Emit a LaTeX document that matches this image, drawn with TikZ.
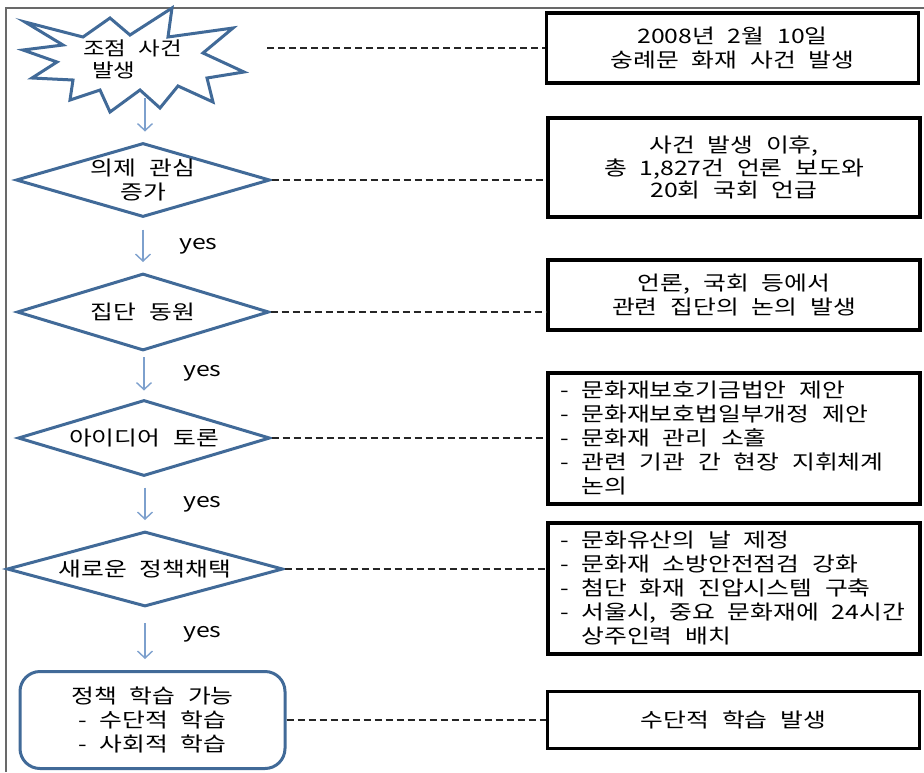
\documentclass[tikz,border=0pt]{standalone}
\usepackage{fontspec}
\setmainfont{Noto Sans CJK KR}[FakeStretch=1.24,WordSpace=2.3]
\usetikzlibrary{shapes.geometric,arrows.meta}
\definecolor{flowblue}{RGB}{65,106,152}
\definecolor{arrowblue}{RGB}{125,160,205}
\definecolor{framegray}{RGB}{105,105,105}
\begin{document}
\begin{tikzpicture}[x=1pt,y=-1pt,
  font=\fontsize{20}{24}\selectfont,
  decision/.style={diamond, draw=flowblue, line width=3pt, inner sep=0pt, aspect=3.4, align=center},
  infobox/.style={draw=black, line width=3.5pt, minimum width=372pt, inner xsep=12pt, inner ysep=0pt, align=center},
  listbox/.style={infobox, text width=348pt, align=flush left},
  flowarrow/.style={draw=arrowblue, line width=1.4pt, -{Straight Barb[length=7pt,width=15pt]}},
  dashlink/.style={draw=black!85, line width=1.8pt, dash pattern=on 7pt off 4pt},
  yeslabel/.style={anchor=west, inner sep=0pt}]
\useasboundingbox (0,0) rectangle (924,772);
% frame
\draw[framegray, line width=1.3pt] (6,772) -- (6,8) -- (924,8);
% starburst
\draw[flowblue, line width=3pt, line join=miter, fill=white]
  (25,22) -- (83,37) -- (110,18) -- (130,35) -- (172,8) -- (168,37) -- (233,28)
  -- (203,53) -- (244,72) -- (207,78) -- (213,102) -- (178,86) -- (160,108)
  -- (140,90) -- (110,112) -- (100,90) -- (70,100) -- (73,80) -- (32,78)
  -- (57,62) -- (23,50) -- (63,45) -- cycle;
\node[anchor=west, align=left, inner sep=0pt, font=\fontsize{19}{22}\selectfont] (star) at (83,59) {조점 사건\\\hspace{9pt}발생};
\coordinate (s0) at (145,98);
\coordinate (s1) at (267,48);
% decisions
\node[decision, minimum width=254pt, minimum height=74pt] (d1) at (143,180) {의제 관심\\증가};
\node[decision, minimum width=252pt, minimum height=77pt] (d2) at (143,312) {집단 동원};
\node[decision, minimum width=252pt, minimum height=76pt] (d3) at (144,438) {아이디어 토론};
\node[decision, minimum width=276pt, minimum height=75pt] (d4) at (145,569) {새로운 정책채택};
\node[draw=flowblue, line width=3pt, rounded corners=20pt, minimum width=265pt, minimum height=97pt, align=center, inner sep=0pt] (r) at (152.5,720) {정책 학습 가능\\- 수단적 학습\\- 사회적 학습};
% arrows
\draw[flowarrow, shorten >=10pt] (s0) -- (s0 |- d1.north);
\draw[flowarrow, shorten <=11pt, shorten >=10pt] (d1.south) -- (d1.south |- d2.north);
\draw[flowarrow, shorten <=5pt, shorten >=8pt] (d2.south -| d3.south) -- (d3.north);
\draw[flowarrow, shorten <=10pt, shorten >=10pt] (d3.south -| d4.south) -- (d4.north);
\draw[flowarrow, shorten <=15pt, shorten >=11pt] (d4.south) -- (d4.south |- r.north);
\node[yeslabel] (y1) at (179,246) {yes};
\node[yeslabel] (y2) at (183,373) {yes};
\node[yeslabel] (y3) at (183,504) {yes};
\node[yeslabel] (y4) at (183,634) {yes};
% info boxes
\node[infobox, minimum height=70pt] (b1) at (732.5,48) {2008년 2월 10일\\숭례문 화재 사건 발생};
\node[infobox, minimum height=99pt, font=\fontsize{20}{22.5}\selectfont] (b2) at (734,167.5) {사건 발생 이후,\\총 1,827건 언론 보도와\\20회 국회 언급};
\node[infobox, minimum height=70pt] (b3) at (734,295) {언론, 국회 등에서\\관련 집단의 논의 발생};
\node[listbox, minimum height=131pt] (b4) at (734,438.5) {- 문화재보호기금법안 제안\\- 문화재보호법일부개정 제안\\- 문화재 관리 소홀\\- 관련 기관 간 현장 지휘체계\\\phantom{- }논의};
\node[listbox, minimum height=131pt] (b5) at (734,588.5) {- 문화유산의 날 제정\\- 문화재 소방안전점검 강화\\- 첨단 화재 진압시스템 구축\\- 서울시, 중요 문화재에 24시간\\\phantom{- }상주인력 배치};
\node[infobox, minimum height=57pt] (b6) at (733.5,720) {수단적 학습 발생};
% dashed links
\draw[dashlink] (s1) -- (b1.west);
\draw[dashlink] (d1.east) -- (d1.east -| b2.west);
\draw[dashlink] (d2.east) -- (d2.east -| b3.west);
\draw[dashlink] (d3.east) -- (d3.east -| b4.west);
\draw[dashlink] (d4.east) -- (d4.east -| b5.west);
\draw[dashlink] (r.east) -- (b6.west);
\end{tikzpicture}
\end{document}
